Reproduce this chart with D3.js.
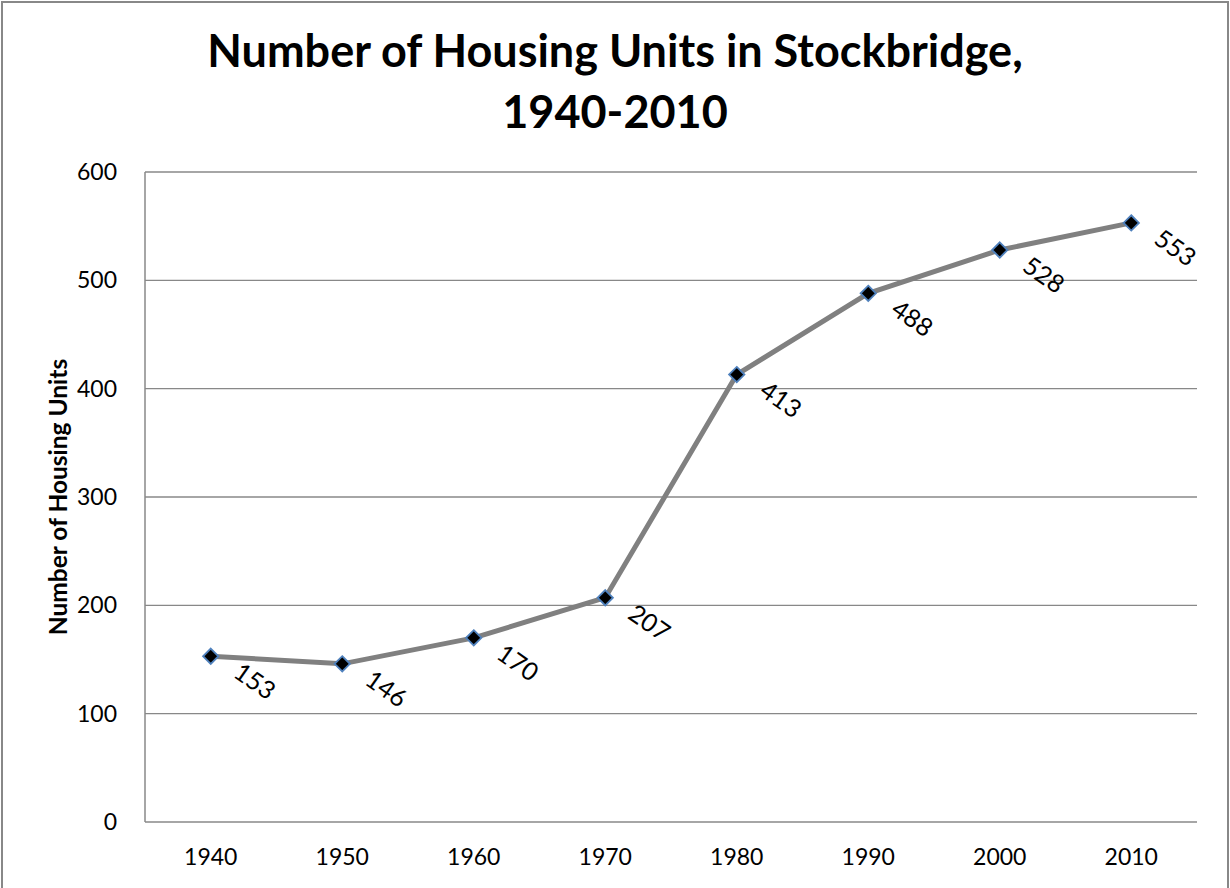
<!DOCTYPE html>
<html>
<head>
<meta charset="utf-8">
<script src="https://cdn.jsdelivr.net/npm/d3@7"></script>
<style>
body { margin: 0; background: #fff; }
svg text { font-family: Lato, "Open Sans", sans-serif; fill: #000; }
</style>
</head>
<body>
<div id="chart"></div>
<script>
const years = ['1940', '1950', '1960', '1970', '1980', '1990', '2000', '2010'];
const units = [153, 146, 170, 207, 413, 488, 528, 553];
const yTicks = [0, 100, 200, 300, 400, 500, 600];

const W = 1230, H = 888;
const margin = { top: 172, right: 33, bottom: 66, left: 145 };
const width = W - margin.left - margin.right;
const height = H - margin.top - margin.bottom;

const root = d3.select('#chart')
    .append('svg')
    .attr('width', W)
    .attr('height', H);

// outer chart border
root.append('rect')
    .attr('x', 2).attr('y', 2)
    .attr('width', W - 4).attr('height', H + 10)
    .attr('fill', 'none')
    .attr('stroke', '#888')
    .attr('stroke-width', 2);

root.append('text')
    .attr('x', 615).attr('y', 67)
    .attr('text-anchor', 'middle')
    .style('font-size', '45px').style('font-weight', 'bold')
    .text('Number of Housing Units in Stockbridge,');
root.append('text')
    .attr('x', 615).attr('y', 128)
    .attr('text-anchor', 'middle')
    .style('font-size', '45px').style('font-weight', 'bold')
    .text('1940-2010');

const svg = root.append('g')
    .attr('transform', `translate(${margin.left},${margin.top})`);

const x = d3.scaleBand().domain(years).range([0, width]);
const y = d3.scaleLinear().domain([0, 600]).range([height, 0]);

// gridlines
svg.append('g')
    .selectAll('line')
    .data(yTicks.filter(d => d > 0))
    .enter()
    .append('line')
    .attr('x1', 0).attr('x2', width)
    .attr('y1', d => y(d)).attr('y2', d => y(d))
    .attr('stroke', '#888').attr('stroke-width', 1.3);

// axes
svg.append('line')
    .attr('x1', 0).attr('x2', 0).attr('y1', 0).attr('y2', height)
    .attr('stroke', '#888').attr('stroke-width', 1.5);
svg.append('line')
    .attr('x1', 0).attr('x2', width).attr('y1', height).attr('y2', height)
    .attr('stroke', '#888').attr('stroke-width', 1.5);

svg.append('g')
    .selectAll('text')
    .data(yTicks)
    .enter()
    .append('text')
    .attr('x', -28)
    .attr('y', d => y(d))
    .attr('dy', '0.35em')
    .attr('text-anchor', 'end')
    .style('font-size', '23px')
    .text(d => d);

svg.append('g')
    .selectAll('text')
    .data(years)
    .enter()
    .append('text')
    .attr('x', d => x(d) + x.bandwidth() / 2)
    .attr('y', height + 43)
    .attr('text-anchor', 'middle')
    .style('font-size', '23px')
    .text(d => d);

svg.append('text')
    .attr('transform', 'rotate(-90)')
    .attr('x', -height / 2)
    .attr('y', -87)
    .attr('dy', '0.35em')
    .attr('text-anchor', 'middle')
    .style('font-size', '24.5px').style('font-weight', 'bold')
    .text('Number of Housing Units');

const data = years.map((yr, i) => ({ year: yr, value: units[i] }));
const cx = d => x(d.year) + x.bandwidth() / 2;

const line = d3.line()
    .x(cx)
    .y(d => y(d.value));

svg.append('path')
    .datum(data)
    .attr('d', line)
    .attr('fill', 'none')
    .attr('stroke', '#808080')
    .attr('stroke-width', 5);

svg.selectAll('.marker')
    .data(data)
    .enter()
    .append('path')
    .attr('class', 'marker')
    .attr('d', d3.symbol().type(d3.symbolDiamond2).size(150))
    .attr('transform', d => `translate(${cx(d)},${y(d.value)})`)
    .attr('fill', '#000')
    .attr('stroke', '#4f81bd')
    .attr('stroke-width', 1.8);

svg.selectAll('.label')
    .data(data)
    .enter()
    .append('text')
    .attr('class', 'label')
    .attr('transform', d => `translate(${cx(d) + 44},${y(d.value) + 25}) rotate(35)`)
    .attr('text-anchor', 'middle')
    .attr('dy', '0.35em')
    .style('font-size', '25px')
    .text(d => d.value);
</script>
</body>
</html>
